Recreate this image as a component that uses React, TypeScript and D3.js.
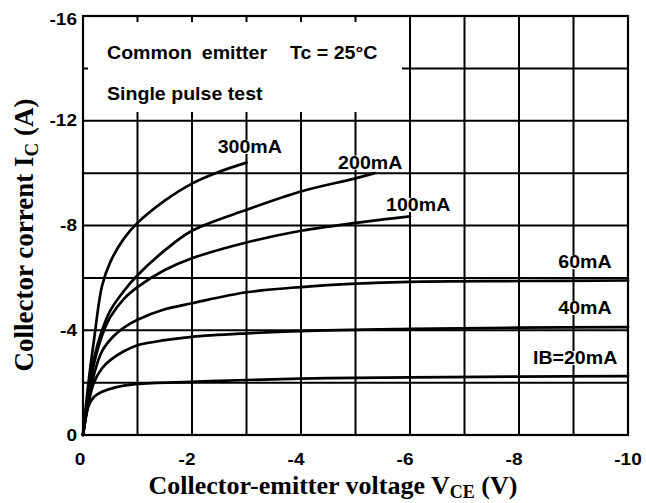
import React, { useEffect, useRef } from 'react';
import * as d3 from 'd3';

const W = 646;
const H = 503;
const PLOT = { left: 83, right: 628, top: 16, bottom: 435 };

const xTicks = [0, -2, -4, -6, -8, -10];
const yTicks = [0, -4, -8, -12, -16];
const xGrid = [-1, -2, -3, -4, -5, -6, -7, -8, -9];
const yGrid = [-2, -4, -6, -8, -10, -12, -14];

const v20 = [0, -0.1, -0.2, -0.35, -0.6, -1, -2, -3, -4.5, -6, -8, -10];
const i20 = [0, -1.1, -1.45, -1.65, -1.82, -1.95, -2.03, -2.1, -2.17, -2.2, -2.23, -2.25];

const v40 = [0, -0.1, -0.2, -0.35, -0.5, -0.75, -1, -1.5, -2, -3, -4, -6, -8, -10];
const i40 = [0, -1.2, -2.0, -2.55, -2.86, -3.2, -3.43, -3.62, -3.75, -3.88, -3.97, -4.05, -4.1, -4.12];

const v60 = [0, -0.1, -0.2, -0.35, -0.55, -0.75, -1, -1.5, -2, -3, -4, -5, -6, -8, -10];
const i60 = [0, -1.3, -2.3, -3.2, -3.75, -4.1, -4.4, -4.8, -5.03, -5.45, -5.65, -5.78, -5.85, -5.88, -5.9];

const v100 = [0, -0.1, -0.2, -0.35, -0.5, -0.75, -1, -1.5, -2, -3, -4, -5, -6];
const i100 = [0, -1.5, -2.7, -3.8, -4.5, -5.2, -5.65, -6.3, -6.75, -7.35, -7.8, -8.1, -8.35];

const v200 = [0, -0.1, -0.2, -0.35, -0.5, -0.75, -1, -1.5, -2, -3, -4, -5, -5.35];
const i200 = [0, -1.6, -2.9, -4.0, -4.75, -5.5, -6.1, -7.05, -7.8, -8.6, -9.3, -9.8, -10.0];

const v300 = [0, -0.1, -0.2, -0.35, -0.5, -0.75, -1, -1.5, -2, -2.5, -3];
const i300 = [0, -2.0, -3.6, -5.7, -6.6, -7.5, -8.1, -8.95, -9.6, -10.05, -10.4];

const curveLabels = ['300mA', '200mA', '100mA', '60mA', '40mA', 'IB=20mA'];
const labelV = [-3.06, -5.27, -6.15, -9.21, -9.21, -9.03];
const labelI = [-11.0, -10.4, -8.78, -6.6, -4.85, -2.94];

const series = [
  { v: v20, i: i20 },
  { v: v40, i: i40 },
  { v: v60, i: i60 },
  { v: v100, i: i100 },
  { v: v200, i: i200 },
  { v: v300, i: i300 },
];

const SANS = "'Liberation Sans', Arial, sans-serif";
const SERIF = "'Liberation Serif', 'Times New Roman', serif";
const SX = 1.12;

export default function App() {
  const ref = useRef<SVGSVGElement>(null);

  useEffect(() => {
    const svg = d3.select(ref.current);
    svg.selectAll('*').remove();

    const x = d3.scaleLinear().domain([0, -10]).range([PLOT.left, PLOT.right]);
    const y = d3.scaleLinear().domain([0, -16]).range([PLOT.bottom, PLOT.top]);

    svg.append('rect').attr('width', W).attr('height', H).attr('fill', '#fff');

    const g = svg.append('g');
    g.selectAll('line.vg').data(xGrid).enter().append('line')
      .attr('x1', d => x(d)).attr('x2', d => x(d))
      .attr('y1', PLOT.top).attr('y2', PLOT.bottom)
      .attr('stroke', '#000').attr('stroke-width', 2);
    g.selectAll('line.hg').data(yGrid).enter().append('line')
      .attr('y1', d => y(d)).attr('y2', d => y(d))
      .attr('x1', PLOT.left).attr('x2', PLOT.right)
      .attr('stroke', '#000').attr('stroke-width', 2);

    g.append('rect')
      .attr('x', PLOT.left + 5).attr('y', PLOT.top + 6)
      .attr('width', 402 - PLOT.left - 5).attr('height', 112 - PLOT.top - 6)
      .attr('fill', '#fff');

    g.append('rect')
      .attr('x', PLOT.left).attr('y', PLOT.top)
      .attr('width', PLOT.right - PLOT.left).attr('height', PLOT.bottom - PLOT.top)
      .attr('fill', 'none').attr('stroke', '#000').attr('stroke-width', 2.2);

    const sansText = (txt: string, tx: number, ty: number, size: number, anchor = 'start') => {
      return svg.append('text')
        .attr('transform', `translate(${tx},${ty}) scale(${SX},1)`)
        .attr('font-family', SANS).attr('font-weight', 'bold')
        .attr('font-size', size).attr('text-anchor', anchor)
        .attr('dominant-baseline', 'central')
        .attr('fill', '#000')
        .text(txt);
    };

    sansText('Common emitter', 107, 53, 17.5).attr('word-spacing', 4);
    sansText('Tc = 25°C', 290, 53, 17.5);
    sansText('Single pulse test', 107, 94, 17.5);

    const line = d3.line<[number, number]>()
      .x(d => x(d[0])).y(d => y(d[1]))
      .curve(d3.curveCatmullRom.alpha(0.5));
    series.forEach(s => {
      const pts: [number, number][] = s.v.map((vv, k) => [vv, s.i[k]]);
      svg.append('path').attr('d', line(pts) as string)
        .attr('fill', 'none').attr('stroke', '#000').attr('stroke-width', 2.7)
        .attr('stroke-linejoin', 'round').attr('stroke-linecap', 'round');
    });

    curveLabels.forEach((lab, k) => {
      const cx = x(labelV[k]);
      const cy = y(labelI[k]);
      const bgR = svg.append('rect').attr('fill', '#fff');
      const t = sansText(lab, cx, cy, 17.5, 'middle');
      const bb = (t.node() as SVGTextElement).getBBox();
      const w = bb.width * SX;
      bgR.attr('x', cx - w / 2 - 1).attr('y', cy - 7).attr('width', w + 2).attr('height', 14);
    });

    yTicks.forEach(v => {
      sansText(String(v), 77, y(v) + (v === -16 ? 3 : 0), 17, 'end');
    });
    xTicks.forEach(v => {
      sansText(String(v), x(v) - (v === 0 ? 3 : v === -10 ? 0 : 5), 459, 17, 'middle');
    });

    const xt = svg.append('text')
      .attr('x', 333).attr('y', 494)
      .attr('text-anchor', 'middle')
      .attr('font-family', SERIF).attr('font-weight', 'bold').attr('font-size', 26)
      .attr('fill', '#000');
    xt.append('tspan').text('Collector-emitter voltage V');
    xt.append('tspan').attr('font-size', 18).attr('dy', 4).text('CE');
    xt.append('tspan').attr('dy', -4).text(' (V)');

    const yt = svg.append('text')
      .attr('transform', `translate(33,235) rotate(-90)`)
      .attr('text-anchor', 'middle')
      .attr('font-family', SERIF).attr('font-weight', 'bold').attr('font-size', 27)
      .attr('fill', '#000');
    yt.append('tspan').text('Collector corrent I');
    yt.append('tspan').attr('font-size', 19).attr('dy', 5).text('C');
    yt.append('tspan').attr('dy', -5).text(' (A)');
  }, []);

  return (
    <svg ref={ref} width={W} height={H}
      style={{ position: 'absolute', left: 0, top: 0, display: 'block' }} />
  );
}
